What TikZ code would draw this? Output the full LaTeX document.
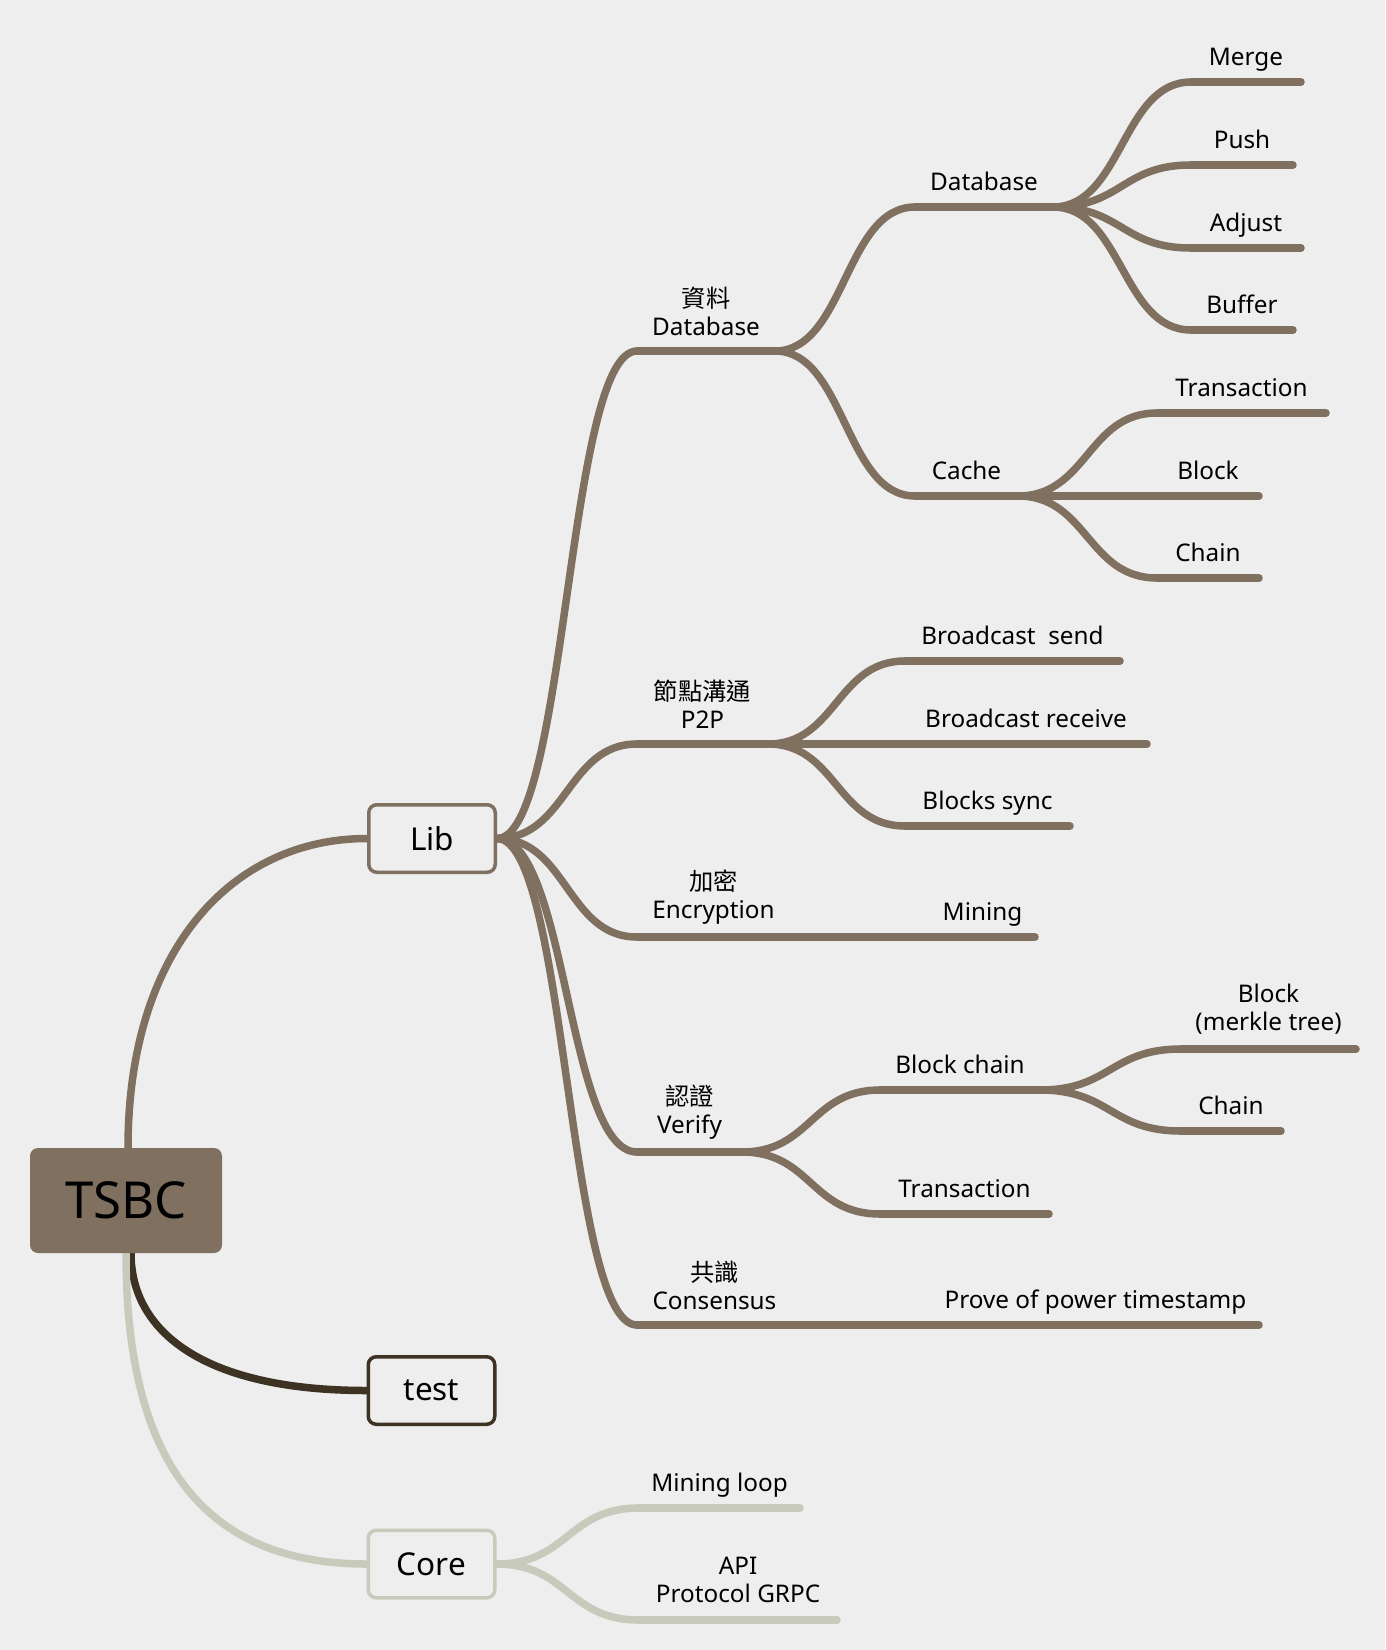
\documentclass[tikz,border=0pt]{standalone}
\usepackage{fontspec}
\setmainfont{Noto Sans}
\newfontfamily\cjk{Noto Sans CJK TC}
\usetikzlibrary{calc}
\definecolor{bgc}{RGB}{238,238,238}
\definecolor{brn}{RGB}{128,112,96}
\definecolor{dkb}{RGB}{62,50,34}
\definecolor{lgt}{RGB}{200,202,188}
\pgfdeclarelayer{bglayer}
\pgfdeclarelayer{connlayer}
\pgfsetlayers{bglayer,connlayer,main}
\tikzset{
  branch/.style={line width=7.5pt, line cap=round},
  lbl/.style={font=\fontsize{24.3}{28}\selectfont, align=center, inner sep=0pt, text=black},
  one/.style={anchor=base, yshift=17pt},
  two/.style={anchor=center, yshift=40pt},
  rootbox/.style={rounded corners=8pt, fill=brn, minimum width=192pt, minimum height=105pt,
    inner sep=0pt, font=\fontsize{51}{58}\selectfont, text=black},
  subbox/.style={rounded corners=8pt, line width=3.5pt, fill=bgc, minimum width=126.5pt,
    minimum height=67.5pt, inner sep=0pt, font=\fontsize{31.5}{36}\selectfont, text=black}
}
% topic: [colour]{name}{xL}{xR}{y}{label style}{text}
\newcommand\topic[7][brn]{%
  \coordinate (#2-L) at (#3,#5);
  \coordinate (#2-R) at (#4,#5);
  \draw[branch,draw=#1] (#2-L) -- (#2-R);
  \node[lbl,#6] (#2) at ({(#3+#4)/2},#5) {#7};
}
% connector: [colour]{from}{to}
\newcommand\conn[3][brn]{%
  \begin{pgfonlayer}{connlayer}
  \draw[branch,draw=#1] let \p1=(#2), \p2=(#3) in
    (\p1) .. controls ({0.5*(\x1+\x2)},\y1) and ({0.5*(\x1+\x2)},\y2) .. (\p2);
  \end{pgfonlayer}
}
\begin{document}
\begin{tikzpicture}[x=1pt,y=-1pt]
\begin{pgfonlayer}{bglayer}
\fill[bgc] (0,0) rectangle (1385,1650);
\end{pgfonlayer}
\useasboundingbox (0,0) rectangle (1385,1650);

% main boxes
\node[rootbox] (tsbc) at (126,1200.5) {TSBC};
\node[subbox,draw=brn] (lib) at (432,838.5) {Lib};
\node[subbox,draw=dkb] (test) at (431.5,1390.5) {test};
\node[subbox,draw=lgt] (core) at (431.5,1564) {Core};

\begin{pgfonlayer}{connlayer}
\draw[branch,draw=brn] ([xshift=2pt]tsbc.north) .. controls +(0,-198) and +(-135,0) .. (lib.west);
\draw[branch,draw=dkb] ([xshift=5pt]tsbc.south) .. controls +(0,77) and +(-165,0) .. (test.west);
\draw[branch,draw=lgt] (tsbc.south) .. controls +(0,177) and +(-185,0) .. (core.west);
\end{pgfonlayer}

% level 2 under Lib
\topic{ziliao}{637}{775}{351}{two}{{\cjk 資料}\\Database}
\topic{p2p}{637}{768}{744}{two}{{\cjk 節點溝通}\\P2P}
\topic{enc}{637}{790}{937}{two}{{\cjk 加密}\\Encryption}
\topic{ver}{637}{742}{1152}{two}{{\cjk 認證}\\Verify}
\topic{cons}{637}{792}{1325}{two}{{\cjk 共識}\\Consensus}
\conn{lib.east}{ziliao-L}
\conn{lib.east}{p2p-L}
\conn{lib.east}{enc-L}
\conn{lib.east}{ver-L}
\conn{lib.east}{cons-L}

% Database branch
\topic{db}{915}{1053}{207}{one}{Database}
\topic{cache}{915}{1018}{496}{one}{Cache}
\conn{ziliao-R}{db-L}
\conn{ziliao-R}{cache-L}
\topic{merge}{1191}{1301}{82}{one}{Merge}
\topic{push}{1191}{1293}{165}{one}{Push}
\topic{adjust}{1191}{1301}{248}{one}{Adjust}
\topic{buffer}{1191}{1293}{330}{one}{Buffer}
\conn{db-R}{merge-L}
\conn{db-R}{push-L}
\conn{db-R}{adjust-L}
\conn{db-R}{buffer-L}
\topic{txa}{1157}{1326}{413}{one}{Transaction}
\topic{blocka}{1157}{1259}{496}{one}{Block}
\topic{chaina}{1157}{1259}{578}{one}{Chain}
\conn{cache-R}{txa-L}
\conn{cache-R}{blocka-L}
\conn{cache-R}{chaina-L}

% P2P branch
\topic{bsend}{905}{1120}{661}{one}{Broadcast\ \ send}
\topic{brecv}{905}{1147}{744}{one}{Broadcast receive}
\topic{bsync}{905}{1070}{826}{one}{Blocks sync}
\conn{p2p-R}{bsend-L}
\conn{p2p-R}{brecv-L}
\conn{p2p-R}{bsync-L}

% Encryption branch
\topic{mining}{930}{1035}{937}{one}{Mining}
\conn{enc-R}{mining-L}

% Verify branch
\topic{bchain}{880}{1040}{1090}{one}{Block chain}
\topic{vtx}{880}{1049}{1214}{one}{Transaction}
\conn{ver-R}{bchain-L}
\conn{ver-R}{vtx-L}
\topic{merkle}{1181}{1356}{1049}{two}{Block\\(merkle tree)}
\topic{vchain}{1181}{1281}{1131}{one}{Chain}
\conn{bchain-R}{merkle-L}
\conn{bchain-R}{vchain-L}

% Consensus branch
\topic{prove}{932}{1259}{1325}{one}{Prove of power timestamp}
\conn{cons-R}{prove-L}

% Core branch
\topic[lgt]{mloop}{639}{800}{1508}{one}{Mining loop}
\topic[lgt]{api}{639}{837}{1620}{two}{API\\Protocol GRPC}
\conn[lgt]{core.east}{mloop-L}
\conn[lgt]{core.east}{api-L}
\end{tikzpicture}
\end{document}
